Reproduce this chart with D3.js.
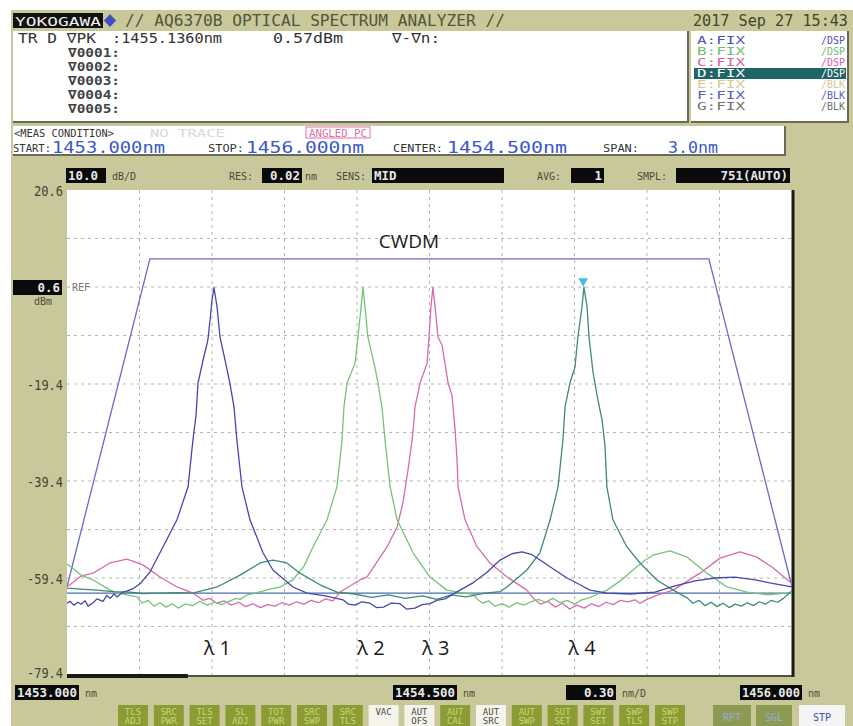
<!DOCTYPE html>
<html>
<head>
<meta charset="utf-8">
<script src="https://cdn.jsdelivr.net/npm/d3@7"></script>
<style>
  body { margin: 0; background: #fff; }
  svg { display: block; }
  text { font-family: "DejaVu Sans Mono", monospace; }
</style>
</head>
<body>
<svg width="853" height="726"></svg>
<script>
let width = 853;
let height = 726;

// trace data, [wavelength nm, level dBm]
const traceA = [[1453.000,-64.6],[1453.012,-64.2],[1453.029,-65.0],[1453.045,-64.4],[1453.058,-64.8],[1453.075,-64.1],[1453.087,-65.2],[1453.108,-64.5],[1453.124,-63.7],[1453.149,-64.2],[1453.165,-63.0],[1453.178,-63.6],[1453.195,-62.7],[1453.207,-63.3],[1453.228,-62.4],[1453.252,-62.0],[1453.273,-61.6],[1453.302,-60.6],[1453.343,-58.2],[1453.397,-53.0],[1453.455,-47.4],[1453.501,-40.6],[1453.521,-31.0],[1453.534,-25.8],[1453.542,-19.2],[1453.563,-14.5],[1453.583,-10.3],[1453.592,-6.2],[1453.600,-2.1],[1453.608,0.5],[1453.621,-3.5],[1453.633,-9.7],[1453.654,-14.5],[1453.674,-19.2],[1453.691,-24.1],[1453.703,-31.0],[1453.724,-40.6],[1453.757,-47.4],[1453.811,-54.2],[1453.852,-57.75],[1453.935,-61.25],[1453.993,-62.5],[1454.068,-63.1],[1454.142,-63.9],[1454.165,-64.8],[1454.192,-65.0],[1454.220,-64.3],[1454.254,-64.6],[1454.280,-65.5],[1454.310,-65.4],[1454.340,-64.6],[1454.378,-64.7],[1454.405,-65.8],[1454.440,-65.6],[1454.470,-64.9],[1454.502,-64.7],[1454.530,-64.0],[1454.564,-63.7],[1454.626,-61.9],[1454.680,-60.4],[1454.738,-58.2],[1454.792,-55.7],[1454.841,-54.4],[1454.883,-54.0],[1454.924,-54.6],[1454.957,-55.7],[1455.011,-57.5],[1455.069,-59.4],[1455.123,-60.8],[1455.164,-61.9],[1455.234,-62.5],[1455.330,-62.7],[1455.433,-62.3],[1455.516,-61.0],[1455.599,-60.0],[1455.681,-59.4],[1455.764,-59.2],[1455.847,-59.8],[1455.930,-60.6],[1456.000,-61.25]];

const traceB = [[1453.000,-56.5],[1453.029,-57.6],[1453.058,-58.8],[1453.108,-59.8],[1453.178,-61.9],[1453.219,-62.6],[1453.290,-63.3],[1453.310,-64.6],[1453.335,-64.0],[1453.360,-65.2],[1453.385,-64.5],[1453.410,-65.4],[1453.435,-64.7],[1453.460,-65.6],[1453.490,-64.8],[1453.520,-65.1],[1453.550,-64.2],[1453.580,-65.0],[1453.610,-64.4],[1453.640,-64.9],[1453.670,-64.2],[1453.700,-63.6],[1453.716,-63.8],[1453.745,-62.9],[1453.780,-62.5],[1453.830,-61.8],[1453.880,-61.3],[1453.935,-59.8],[1453.980,-57.0],[1454.018,-53.0],[1454.076,-47.4],[1454.117,-40.6],[1454.138,-31.0],[1454.146,-24.1],[1454.159,-19.2],[1454.192,-15.1],[1454.204,-9.7],[1454.217,-3.5],[1454.225,0.5],[1454.233,-3.5],[1454.245,-9.7],[1454.274,-15.9],[1454.287,-19.2],[1454.303,-24.1],[1454.316,-31.0],[1454.337,-40.6],[1454.366,-47.4],[1454.432,-54.2],[1454.502,-59.2],[1454.572,-61.9],[1454.640,-62.5],[1454.680,-62.7],[1454.700,-63.9],[1454.721,-64.6],[1454.745,-64.1],[1454.770,-65.2],[1454.800,-64.7],[1454.830,-65.4],[1454.860,-64.5],[1454.890,-65.0],[1454.920,-64.3],[1454.950,-63.8],[1454.980,-64.4],[1455.010,-63.6],[1455.040,-64.5],[1455.070,-64.0],[1455.100,-64.8],[1455.130,-63.9],[1455.160,-63.5],[1455.193,-62.8],[1455.234,-61.9],[1455.290,-60.0],[1455.342,-57.75],[1455.390,-55.8],[1455.425,-54.7],[1455.495,-53.8],[1455.566,-55.1],[1455.648,-58.4],[1455.731,-61.25],[1455.814,-62.3],[1455.900,-62.9],[1456.000,-62.4]];

const traceC = [[1453.000,-61.2],[1453.012,-60.8],[1453.058,-59.0],[1453.108,-58.4],[1453.178,-56.3],[1453.248,-55.5],[1453.314,-56.7],[1453.385,-59.2],[1453.455,-61.25],[1453.521,-62.5],[1453.563,-64.0],[1453.590,-63.6],[1453.620,-64.6],[1453.650,-64.1],[1453.680,-65.0],[1453.710,-64.4],[1453.740,-65.3],[1453.770,-64.7],[1453.800,-65.5],[1453.830,-64.9],[1453.860,-65.2],[1453.890,-64.5],[1453.920,-65.0],[1453.950,-64.3],[1453.980,-64.8],[1454.010,-64.0],[1454.040,-64.5],[1454.070,-63.7],[1454.100,-64.1],[1454.130,-62.3],[1454.212,-59.8],[1454.241,-59.2],[1454.324,-53.0],[1454.366,-48.9],[1454.390,-43.9],[1454.411,-37.1],[1454.428,-31.0],[1454.436,-26.8],[1454.440,-24.1],[1454.461,-19.2],[1454.490,-15.1],[1454.498,-9.7],[1454.506,-3.5],[1454.514,0.5],[1454.523,-3.5],[1454.535,-9.7],[1454.552,-11.4],[1454.577,-19.2],[1454.593,-21.7],[1454.606,-28.9],[1454.614,-35.0],[1454.618,-40.6],[1454.647,-47.4],[1454.697,-53.0],[1454.750,-56.3],[1454.821,-59.2],[1454.903,-61.9],[1454.928,-63.5],[1454.960,-64.8],[1454.990,-64.2],[1455.020,-65.4],[1455.050,-64.6],[1455.080,-65.8],[1455.110,-65.0],[1455.140,-65.6],[1455.170,-64.7],[1455.200,-65.3],[1455.230,-64.4],[1455.260,-64.9],[1455.290,-64.0],[1455.320,-64.3],[1455.350,-63.9],[1455.371,-64.6],[1455.400,-63.8],[1455.440,-63.0],[1455.508,-61.9],[1455.619,-58.4],[1455.702,-55.3],[1455.785,-54.0],[1455.855,-55.1],[1455.921,-57.3],[1455.992,-60.2],[1456.000,-60.6]];

const traceD = [[1453.000,-61.5],[1453.058,-61.7],[1453.124,-61.9],[1453.190,-62.2],[1453.260,-62.3],[1453.314,-62.6],[1453.380,-62.5],[1453.455,-62.4],[1453.521,-62.5],[1453.621,-61.25],[1453.716,-58.8],[1453.799,-56.3],[1453.852,-55.7],[1453.910,-56.3],[1453.964,-58.4],[1454.047,-60.8],[1454.117,-62.3],[1454.190,-62.7],[1454.260,-63.4],[1454.330,-62.9],[1454.400,-63.6],[1454.470,-63.1],[1454.530,-63.8],[1454.590,-62.9],[1454.650,-63.3],[1454.720,-62.6],[1454.792,-62.2],[1454.821,-61.25],[1454.903,-57.75],[1454.957,-54.2],[1454.999,-47.4],[1455.032,-40.6],[1455.052,-31.0],[1455.061,-24.1],[1455.081,-19.2],[1455.102,-15.9],[1455.114,-9.7],[1455.131,-3.5],[1455.139,0.57],[1455.152,-3.5],[1455.160,-9.7],[1455.177,-17.1],[1455.197,-22.7],[1455.214,-26.8],[1455.226,-32.0],[1455.234,-40.6],[1455.259,-47.4],[1455.317,-53.0],[1455.371,-56.3],[1455.441,-59.8],[1455.508,-61.9],[1455.566,-63.5],[1455.590,-64.6],[1455.615,-64.0],[1455.640,-65.1],[1455.665,-64.4],[1455.690,-65.3],[1455.715,-64.6],[1455.740,-65.5],[1455.765,-64.8],[1455.790,-65.2],[1455.815,-64.5],[1455.840,-65.1],[1455.865,-64.3],[1455.890,-64.8],[1455.915,-64.0],[1455.940,-64.4],[1455.965,-63.6],[1456.000,-62.0]];

// CWDM passband outline and its floor
const cwdmMask = [[1453.000,-61.2],[1453.343,6.4],[1455.656,6.4],[1456.000,-61.2]];
const cwdmFloor = -62.5;

const peakMarker = [1455.136, 0.57];
const lambdaLabels = [["λ 1",1453.622],["λ 2",1454.258],["λ 3",1454.526],["λ 4",1455.131]];

const yLabels = [20.6, -19.4, -39.4, -59.4, -79.4];
const yGrid = [10.6, 0.6, -9.4, -19.4, -29.4, -39.4, -49.4, -59.4, -69.4];
const xGrid = [1453.3, 1453.6, 1453.9, 1454.2, 1454.5, 1454.8, 1455.1, 1455.4, 1455.7];
const refLevel = 0.6;

const legendRows = [["A:FIX","/DSP","#5050b8"],["B:FIX","/DSP","#6cc070"],["C:FIX","/DSP","#d860a8"],["D:FIX","/DSP","#ffffff"],["E:FIX","/BLK","#d8c890"],["F:FIX","/BLK","#5860c0"],["G:FIX","/BLK","#707070"]];
const markerRows = ["∇0001:","∇0002:","∇0003:","∇0004:","∇0005:"];
const buttonLabels = [["TLS","ADJ"],["SRC","PWR"],["TLS","SET"],["SL","ADJ"],["TOT","PWR"],["SRC","SWP"],["SRC","TLS"],["VAC",""],["AUT","OFS"],["AUT","CAL"],["AUT","SRC"],["AUT","SWP"],["SUT","SET"],["SWT","SET"],["SWP","TLS"],["SWP","STP"]];

const svg = d3.select("svg");
const bg = "#c9c89b";

svg.append("rect").attr("x", 11).attr("y", 10).attr("width", width - 11).attr("height", height - 10).attr("fill", bg);

// title bar
svg.append("rect").attr("x", 13).attr("y", 13).attr("width", 90).attr("height", 15).attr("fill", "#111");
svg.append("text").attr("x", 15).attr("y", 25.5).attr("fill", "#f0f0f0").attr("font-size", 13)
  .attr("textLength", 86).attr("lengthAdjust", "spacingAndGlyphs").text("YOKOGAWA");
svg.append("path").attr("d", "M110,14 L116,20.5 L110,27 L104,20.5 Z").attr("fill", "#4050c0");
svg.append("text").attr("x", 125).attr("y", 26).attr("fill", "#55553c").attr("font-size", 15)
  .attr("textLength", 380).attr("lengthAdjust", "spacingAndGlyphs").text("// AQ6370B OPTICAL SPECTRUM ANALYZER //");
svg.append("text").attr("x", 693).attr("y", 26).attr("fill", "#44442c").attr("font-size", 15)
  .attr("textLength", 155).attr("lengthAdjust", "spacingAndGlyphs").text("2017 Sep 27 15:43");

// info box
function box(x, y, w, h) {
  svg.append("rect").attr("x", x).attr("y", y).attr("width", w).attr("height", h).attr("fill", "#fff");
  svg.append("path").attr("d", `M${x},${y + h} L${x + w},${y + h} L${x + w},${y}`)
    .attr("fill", "none").attr("stroke", "#6a6a5a").attr("stroke-width", 2);
}
box(13, 31, 675, 91);
box(691, 31, 157, 91);

svg.append("text").attr("x", 18).attr("y", 43).attr("fill", "#333").attr("font-size", 14)
  .attr("textLength", 78).attr("lengthAdjust", "spacingAndGlyphs").text("TR D ∇PK");
svg.append("text").attr("x", 112).attr("y", 43).attr("fill", "#333").attr("font-size", 14)
  .attr("textLength", 110).attr("lengthAdjust", "spacingAndGlyphs").text(":1455.1360nm");
svg.append("text").attr("x", 273).attr("y", 43).attr("fill", "#333").attr("font-size", 14)
  .attr("textLength", 70).attr("lengthAdjust", "spacingAndGlyphs").text("0.57dBm");
svg.append("text").attr("x", 392).attr("y", 43).attr("fill", "#333").attr("font-size", 14)
  .attr("textLength", 48).attr("lengthAdjust", "spacingAndGlyphs").text("∇-∇n:");
svg.selectAll(".mrow").data(markerRows).enter().append("text")
  .attr("x", 68).attr("y", (d, i) => 57 + i * 14)
  .attr("fill", "#444").attr("font-size", 13).attr("font-weight", "bold")
  .attr("textLength", 52).attr("lengthAdjust", "spacingAndGlyphs").text(d => d);

// trace legend
legendRows.forEach((r, i) => {
  const yy = 41 + i * 11;
  if (r[0] === "D:FIX") {
    svg.append("rect").attr("x", 694).attr("y", yy - 6).attr("width", 152).attr("height", 11).attr("fill", "#1f6466");
  }
  svg.append("text").attr("x", 697).attr("y", yy + 3).attr("fill", r[2]).attr("font-size", 10)
    .attr("textLength", 48).attr("lengthAdjust", "spacingAndGlyphs").text(r[0]);
  svg.append("text").attr("x", 845).attr("y", yy + 3).attr("fill", r[2]).attr("font-size", 10)
    .attr("text-anchor", "end").text(r[1]);
});

// meas condition box
box(13, 126, 772, 29);
svg.append("text").attr("x", 14).attr("y", 137).attr("fill", "#333").attr("font-size", 11)
  .attr("textLength", 100).attr("lengthAdjust", "spacingAndGlyphs").text("<MEAS CONDITION>");
svg.append("text").attr("x", 150).attr("y", 137).attr("fill", "#d8d8d8").attr("font-size", 11)
  .attr("textLength", 75).attr("lengthAdjust", "spacingAndGlyphs").text("NO TRACE");
svg.append("rect").attr("x", 306).attr("y", 127).attr("width", 64).attr("height", 11)
  .attr("fill", "#fff").attr("stroke", "#e070a8");
svg.append("text").attr("x", 309).attr("y", 136.5).attr("fill", "#e070a8").attr("font-size", 11)
  .attr("textLength", 58).attr("lengthAdjust", "spacingAndGlyphs").text("ANGLED PC");

const measItems = [["START:", 13, 38, "1453.000nm", 52, 113], ["STOP:", 208, 36, "1456.000nm", 246, 118], ["CENTER:", 393, 50, "1454.500nm", 447, 120], ["SPAN:", 603, 36, "3.0nm", 668, 50]];
measItems.forEach(m => {
  svg.append("text").attr("x", m[1]).attr("y", 152).attr("fill", "#333").attr("font-size", 11)
    .attr("textLength", m[2]).attr("lengthAdjust", "spacingAndGlyphs").text(m[0]);
  svg.append("text").attr("x", m[4]).attr("y", 153).attr("fill", "#3a58c8").attr("font-size", 16)
    .attr("textLength", m[5]).attr("lengthAdjust", "spacingAndGlyphs").text(m[3]);
});

// black value boxes
function valBox(x, y, w, h, t, anchor) {
  svg.append("rect").attr("x", x).attr("y", y).attr("width", w).attr("height", h).attr("fill", "#0a0a0a");
  const tl = Math.min(w - 4, t.length * h * 0.5);
  svg.append("text").attr("x", anchor === "start" ? x + 2 : x + w - 2).attr("y", y + h - 3)
    .attr("text-anchor", anchor || "end").attr("fill", "#e8e8e8").attr("font-size", h - 2)
    .attr("font-weight", "bold").attr("textLength", tl).attr("lengthAdjust", "spacingAndGlyphs").text(t);
}
function lbl(x, y, t, size) {
  svg.append("text").attr("x", x).attr("y", y).attr("fill", "#4a4a3a").attr("font-size", size || 10).text(t);
}
valBox(66, 168, 40, 15, "10.0", "start");
lbl(112, 180, "dB/D");
lbl(229, 180, "RES:");
valBox(262, 168, 40, 15, "0.02");
lbl(305, 180, "nm");
lbl(336, 180, "SENS:");
valBox(372, 168, 132, 15, "MID", "start");
lbl(537, 180, "AVG:");
valBox(571, 168, 33, 15, "1");
lbl(637, 180, "SMPL:");
valBox(676, 168, 114, 15, "751(AUTO)");

// plot area
const x = d3.scaleLinear().domain([1453, 1456]).range([67, 792]);
const y = d3.scaleLinear().domain([-79.4, 20.6]).range([675, 190]);

svg.append("rect").attr("x", x(1453)).attr("y", y(20.6)).attr("width", x(1456) - x(1453))
  .attr("height", y(-79.4) - y(20.6)).attr("fill", "#fff");
svg.append("clipPath").attr("id", "clip").append("rect")
  .attr("x", x(1453)).attr("y", y(20.6)).attr("width", x(1456) - x(1453)).attr("height", y(-79.4) - y(20.6));

const grid = svg.append("g").attr("stroke", "#b4b4b4").attr("stroke-dasharray", "3,4");
grid.selectAll(".gx").data(xGrid).enter().append("line")
  .attr("x1", d => x(d)).attr("x2", d => x(d)).attr("y1", y(20.6)).attr("y2", y(-79.4));
grid.selectAll(".gy").data(yGrid).enter().append("line")
  .attr("y1", d => y(d)).attr("y2", d => y(d)).attr("x1", x(1453)).attr("x2", x(1456));

// right frame and bottom scroll bar
svg.append("line").attr("x1", x(1456) + 1).attr("x2", x(1456) + 1).attr("y1", y(20.6)).attr("y2", y(-79.4) + 2)
  .attr("stroke", "#1a1a1a").attr("stroke-width", 3);
svg.append("line").attr("x1", x(1453)).attr("x2", x(1456) + 2).attr("y1", y(-79.4) + 1).attr("y2", y(-79.4) + 1)
  .attr("stroke", "#2a2a2a").attr("stroke-width", 1.5);
svg.append("line").attr("x1", x(1453)).attr("x2", x(1453.5)).attr("y1", y(-79.4) + 1).attr("y2", y(-79.4) + 1)
  .attr("stroke", "#1a1a1a").attr("stroke-width", 4);

// y labels
svg.selectAll(".yl").data(yLabels).enter().append("text")
  .attr("x", 63).attr("y", d => y(d) + (d < -70 ? 3 : 6)).attr("text-anchor", "end")
  .attr("fill", "#44442c").attr("font-size", 14)
  .attr("textLength", d => d < 0 ? 36 : 29).attr("lengthAdjust", "spacingAndGlyphs").text(d => d.toFixed(1));
valBox(13, y(refLevel) - 7, 49, 15, refLevel.toFixed(1));
lbl(34, y(refLevel) + 18, "dBm");
svg.append("text").attr("x", 72).attr("y", y(refLevel) + 4).attr("fill", "#777").attr("font-size", 10).text("REF");

// traces
const line = d3.line().x(d => x(d[0])).y(d => y(d[1]));
const plot = svg.append("g").attr("clip-path", "url(#clip)").attr("fill", "none").attr("stroke-width", 1.3);

plot.append("line").attr("x1", x(1453)).attr("x2", x(1456)).attr("y1", y(cwdmFloor)).attr("y2", y(cwdmFloor))
  .attr("stroke", "#4a6cb0");
plot.append("path").attr("d", line(cwdmMask)).attr("stroke", "#6a6ac4");

const traces = [[traceC, "#d86aaa"], [traceB, "#74c474"], [traceD, "#3e8a78"], [traceA, "#4646ae"]];
traces.forEach(t => {
  plot.append("path").attr("d", line(t[0])).attr("stroke", t[1]).attr("stroke-linejoin", "round");
});

// peak marker
svg.append("path").attr("d", d3.symbol().type(d3.symbolTriangle).size(40))
  .attr("transform", `translate(${x(peakMarker[0])},${y(peakMarker[1]) - 6}) rotate(180)`)
  .attr("fill", "#40c0d8");

// annotations
svg.append("text").attr("x", 409).attr("y", 248).attr("text-anchor", "middle")
  .style("font-family", "'Open Sans', sans-serif").attr("font-size", 19).attr("fill", "#1a1a1a").text("CWDM");
svg.selectAll(".lam").data(lambdaLabels).enter().append("text")
  .attr("x", d => x(d[1])).attr("y", 655).attr("text-anchor", "middle")
  .style("font-family", "'Open Sans', sans-serif").attr("font-size", 20).attr("fill", "#1a1a1a")
  .text(d => d[0]);

// bottom wavelength row
function bottomVal(bx, w, t, unit) {
  valBox(bx, 685, w, 15, t);
  lbl(bx + w + 6, 697, unit);
}
bottomVal(15, 64, "1453.000", "nm");
bottomVal(393, 64, "1454.500", "nm");
bottomVal(566, 50, "0.30", "nm/D");
bottomVal(740, 62, "1456.000", "nm");

// soft keys
const bx0 = 118, bw = 30, bstep = 35.8;
buttonLabels.forEach((b, i) => {
  const px = bx0 + i * bstep;
  const light = b[0] === "VAC" || b[1] === "OFS" || b[1] === "SRC";
  svg.append("rect").attr("x", px).attr("y", 705).attr("width", bw).attr("height", 24)
    .attr("fill", light ? "#f4f4ea" : "#8c9c34");
  svg.append("text").attr("x", px + bw / 2).attr("y", 715).attr("text-anchor", "middle")
    .attr("font-size", 9).attr("fill", light ? "#4a4a4a" : "#c8d47a").text(b[0]);
  svg.append("text").attr("x", px + bw / 2).attr("y", 724).attr("text-anchor", "middle")
    .attr("font-size", 9).attr("fill", light ? "#4a4a4a" : "#c8d47a").text(b[1]);
});
[["RPT", 713, 38, "#8c9a52"], ["SGL", 756, 36, "#8c9a52"], ["STP", 799, 46, "#f4f4f4"]].forEach(k => {
  svg.append("rect").attr("x", k[1]).attr("y", 705).attr("width", k[2]).attr("height", 24).attr("fill", k[3]);
  svg.append("text").attr("x", k[1] + k[2] / 2).attr("y", 721).attr("text-anchor", "middle")
    .attr("font-size", 10).attr("fill", k[0] === "STP" ? "#3a50c0" : "#a0a8e0").text(k[0]);
});
</script>
</body>
</html>
